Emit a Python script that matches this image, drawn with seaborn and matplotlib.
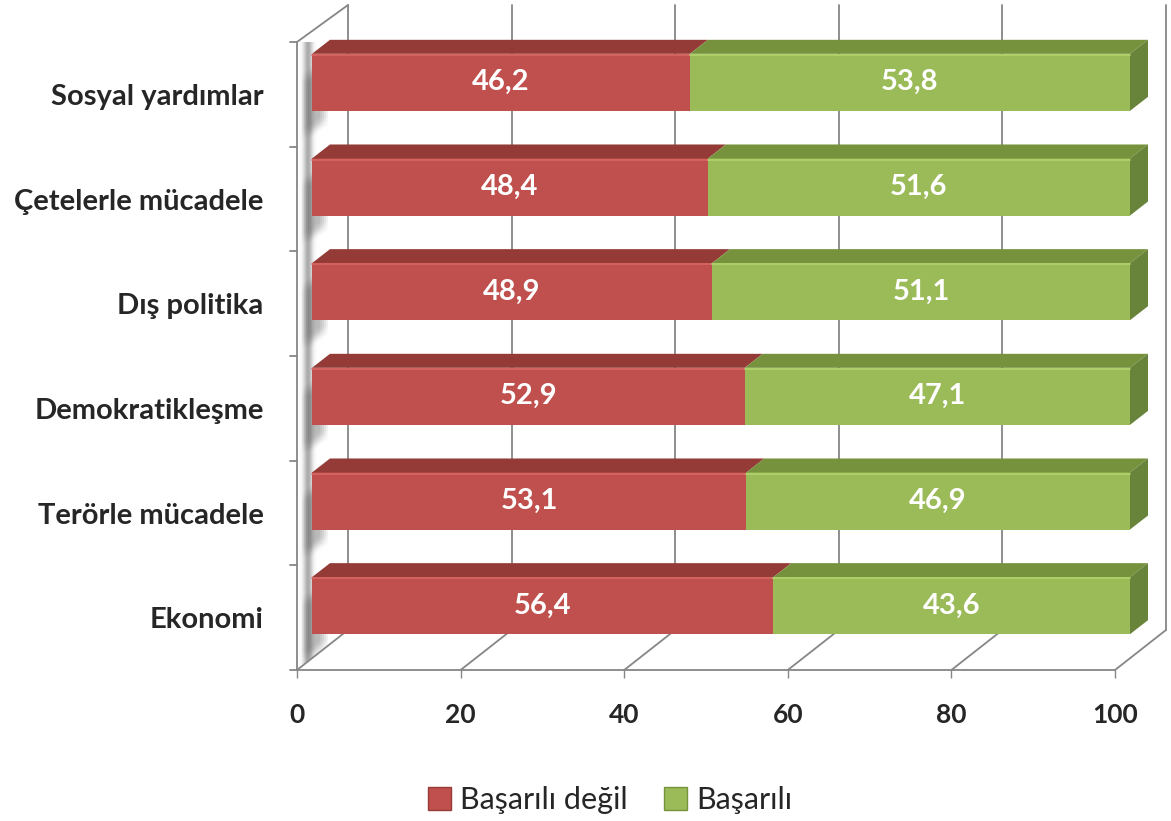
import numpy as np
import pandas as pd
import seaborn as sns
import matplotlib.pyplot as plt
from matplotlib.patches import Polygon, Patch

# veriler
kategoriler = ['Sosyal yardımlar', 'Çetelerle mücadele', 'Dış politika',
               'Demokratikleşme', 'Terörle mücadele', 'Ekonomi']
basarili_degil = [46.2, 48.4, 48.9, 52.9, 53.1, 56.4]
basarili = [53.8, 51.6, 51.1, 47.1, 46.9, 43.6]
x_etiketleri = [0, 20, 40, 60, 80, 100]
seriler = ['Başarılı değil', 'Başarılı']

# renkler
kirmizi, kirmizi_ust = '#C0504D', '#943B38'
yesil, yesil_ust, yesil_yan = '#9BBB59', '#76923C', '#68833A'
gri = '#868686'

df = pd.DataFrame({'Kategori': kategoriler,
                   'Başarılı değil': basarili_degil,
                   'Başarılı': basarili})
df['Toplam'] = df['Başarılı değil'] + df['Başarılı']

sns.set_style('white')
plt.rcParams['font.family'] = ['Lato', 'DejaVu Sans']

W, H = 1171, 821
fig = plt.figure(figsize=(W / 100, H / 100), dpi=100)
ax = fig.add_axes([297 / W, 1 - 670 / H, 818 / W, 628 / H])

genislik = 0.545
sns.barplot(data=df, y='Kategori', x='Toplam', color=yesil, saturation=1,
            width=genislik, orient='h', ax=ax, zorder=3)
sns.barplot(data=df, y='Kategori', x='Başarılı değil', color=kirmizi, saturation=1,
            width=genislik, orient='h', ax=ax, zorder=3)

n = len(kategoriler)
xmax = 100
ax.set_xlim(0, xmax)
ax.set_ylim(n - 0.5, -0.5)
ax.set_xlabel('')
ax.set_ylabel('')
for s in ax.spines.values():
    s.set_visible(False)

# piksel -> veri birimi
sx = 818 / xmax
sy = 628 / n


def kaydir(px, py):
    return px / sx, -py / sy


bx, by = kaydir(15, 12)      # cubuk on yuzu
dx2, dy2 = kaydir(18, 14)    # cubuk derinligi
dxw, dyw = kaydir(51, 40)    # arka duvar
_, dyt = kaydir(51, 37)

# cubuklari derinlige kaydir
for p in ax.patches:
    p.set_x(p.get_x() + bx)
    p.set_y(p.get_y() + by)
    p.set_edgecolor('none')
    p.set_clip_on(False)

# sol duvar + golge bandi
duvar = Polygon([(0, -0.5), (dxw, -0.5 + dyt), (dxw, n - 0.5 + dyw), (0, n - 0.5)],
                closed=True, facecolor='white', edgecolor='none', zorder=1)
ax.add_patch(duvar)
px = np.linspace(0, 51, 300)
ton = 1 - 0.33 * np.exp(-((px - 11) / 4.5) ** 2)
im = ax.imshow(ton[None, :], cmap='gray', vmin=0, vmax=1, aspect='auto',
               extent=[0, dxw, n - 0.5 + dyw * 0.15, -0.5 + dyt * 0.2], zorder=1.2,
               interpolation='bilinear')
im.set_clip_path(duvar)
ax.set_xlim(0, xmax)
ax.set_ylim(n - 0.5, -0.5)

# ust ve yan yuzler
for i in range(n):
    r = basarili_degil[i]
    yt = i - genislik / 2 + by
    yb = i + genislik / 2 + by
    for x0, x1, c in [(0, r, kirmizi_ust), (r, r + basarili[i], yesil_ust)]:
        ax.add_patch(Polygon([(x0 + bx, yt), (x1 + bx, yt),
                              (x1 + bx + dx2, yt + dy2), (x0 + bx + dx2, yt + dy2)],
                             closed=True, facecolor=c, edgecolor='none',
                             zorder=3, clip_on=False))
    xe = r + basarili[i] + bx
    ax.add_patch(Polygon([(xe, yt), (xe, yb), (xe + dx2, yb + dy2), (xe + dx2, yt + dy2)],
                         closed=True, facecolor=yesil_yan, edgecolor='none',
                         zorder=3, clip_on=False))
    # on yuz ust kenar parlakligi
    ax.plot([bx, r + bx], [yt + 0.01, yt + 0.01], color='#D96662', lw=1.2,
            zorder=3.5, clip_on=False)
    ax.plot([r + bx, xe], [yt + 0.01, yt + 0.01], color='#B3D36E', lw=1.2,
            zorder=3.5, clip_on=False)

    # duvardaki yumusak golge
    gx, gy = kaydir(-6, -24)
    for ox in [-4, -2, 0, 2, 4]:
        for oy in [-4, 0, 4]:
            ex, ey = kaydir(ox, oy)
            g = Polygon([(bx + gx + ex, yt + gy + ey), (bx + gx + ex, yb + gy + ey),
                         (bx + dx2 + gx + ex, yb + dy2 + gy + ey),
                         (bx + dx2 + gx + ex, yt + dy2 + gy + ey)],
                        closed=True, facecolor='#303030', edgecolor='none',
                        alpha=0.025, zorder=1.5)
            ax.add_patch(g)
            g.set_clip_path(duvar)

    ax.text(bx + r / 2, i + by, f'{r:.1f}'.replace('.', ','), color='white',
            fontsize=21, fontweight='bold', ha='center', va='center', zorder=5)
    ax.text(bx + r + basarili[i] / 2, i + by, f'{basarili[i]:.1f}'.replace('.', ','),
            color='white', fontsize=21, fontweight='bold', ha='center',
            va='center', zorder=5)

# izgara: taban ve arka duvar
lw = 1.3
for t in x_etiketleri:
    ax.plot([t, t + dxw], [n - 0.5, n - 0.5 + dyw], color=gri, lw=lw, zorder=2, clip_on=False)
    ax.plot([t + dxw, t + dxw], [n - 0.5 + dyw, -0.5 + dyt], color=gri, lw=lw,
            zorder=2, clip_on=False)
ax.plot([0, dxw], [-0.5, -0.5 + dyt], color=gri, lw=lw, zorder=2, clip_on=False)
ax.plot([0, 0], [-0.5, n - 0.5], color=gri, lw=lw, zorder=2, clip_on=False)
ax.plot([0, xmax], [n - 0.5, n - 0.5], color=gri, lw=lw, zorder=2, clip_on=False)
for k in range(n + 1):
    ax.plot([-7 / sx, 0], [k - 0.5, k - 0.5], color=gri, lw=lw, clip_on=False)

# eksen etiketleri
ax.set_xticks(x_etiketleri)
ax.set_xticklabels([str(t) for t in x_etiketleri], fontsize=19, fontweight='bold')
ax.tick_params(axis='x', bottom=True, length=5.8, width=1, color=gri, pad=18)
ax.set_yticks(range(n))
ax.set_yticklabels(kategoriler, fontsize=21, fontweight='bold')
ax.tick_params(axis='y', left=False, length=0, pad=24)

# lejant
tutucular = [Patch(facecolor=kirmizi, edgecolor=kirmizi_ust),
             Patch(facecolor=yesil, edgecolor=yesil_ust)]
fig.legend(tutucular, seriler, loc='center', bbox_to_anchor=(610 / W, 1 - 800 / H),
           ncol=2, frameon=False, fontsize=22, handlelength=0.75, handleheight=0.75,
           handletextpad=0.3, columnspacing=1.2)

fig.savefig('out.png', dpi=100)
